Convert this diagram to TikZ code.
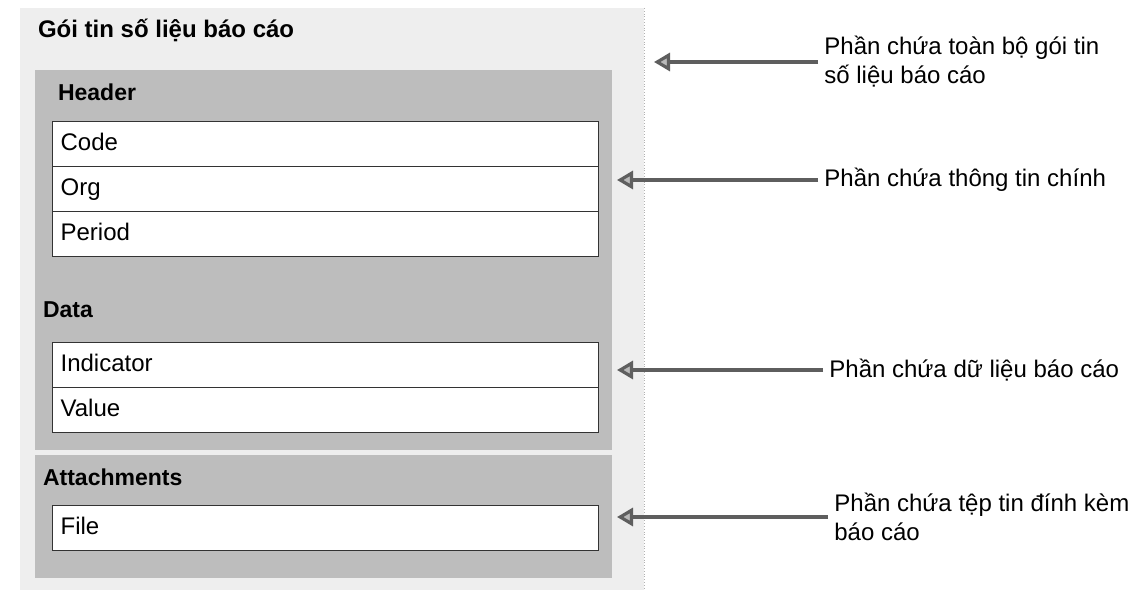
\documentclass[tikz,border=0pt]{standalone}
\usepackage{fontspec}
\setmainfont{Liberation Sans}
\usetikzlibrary{positioning,arrows.meta}
\definecolor{packfill}{HTML}{EEEEEE}
\definecolor{partfill}{HTML}{BDBDBD}
\definecolor{pointgray}{HTML}{5E5E5E}
\tikzset{
  field/.style={draw=black!80,line width=0.6pt,fill=white,minimum height=22.5pt,
    text height=8.8pt,text depth=2.6pt,
    text width=265pt,inner xsep=4pt,align=left,anchor=north west,font=\fontsize{12}{13}\selectfont},
  parthead/.style={anchor=west,font=\fontsize{11.5}{13}\selectfont\bfseries},
  note/.style={anchor=west,align=left,inner sep=3pt,font=\fontsize{12}{14.5}\selectfont},
  pointer/.style={-{Triangle[length=8pt,width=9pt,fill=gray!55]},draw=pointgray,line width=1.6pt}
}
\begin{document}
\begin{tikzpicture}[x=0.5pt,y=-0.5pt]
\useasboundingbox (0,0) rectangle (1148,594);

% Package and parts
\fill[packfill] (20,8) rectangle (644,590);
\draw[gray!60,densely dotted] (644,8) -- (644,590);
\fill[partfill] (35,70) rectangle (612,450);
\fill[partfill] (35,455) rectangle (612,578);

% Title
\node[parthead,font=\fontsize{12}{14}\selectfont\bfseries] (title) at (31,30) {Gói tin số liệu báo cáo};

% Header
\node[parthead] (header) at (51,92) {Header};
\node[field] (code) at (52,121) {Code};
\node[field,below=-0.6pt of code] (org) {Org};
\node[field,below=-0.6pt of org] (period) {Period};

% Data
\node[parthead] (data) at (36,310) {Data};
\node[field] (indicator) at (52,342) {Indicator};
\node[field,below=-0.6pt of indicator] (value) {Value};

% Attachments
\node[parthead] (attach) at (36,477) {Attachments};
\node[field] (file) at (52,505) {File};

% Notes
\node[note] (note1) at (818,62) {Phần chứa toàn bộ gói tin\\số liệu báo cáo};
\node[note] (note2) at (818,180) {Phần chứa thông tin chính};
\node[note] (note3) at (823,370) {Phần chứa dữ liệu báo cáo};
\node[note] (note4) at (828,517) {Phần chứa tệp tin đính kèm\\báo cáo};

\coordinate (tip1) at (654,62);
\coordinate (tip2) at (617,180);
\coordinate (tip3) at (617,370);
\coordinate (tip4) at (617,517);

% Arrows
\draw[pointer] (note1.west) -- (tip1);
\draw[pointer] (note2.west) -- (tip2);
\draw[pointer] (note3.west) -- (tip3);
\draw[pointer] (note4.west) -- (tip4);
\end{tikzpicture}
\end{document}
